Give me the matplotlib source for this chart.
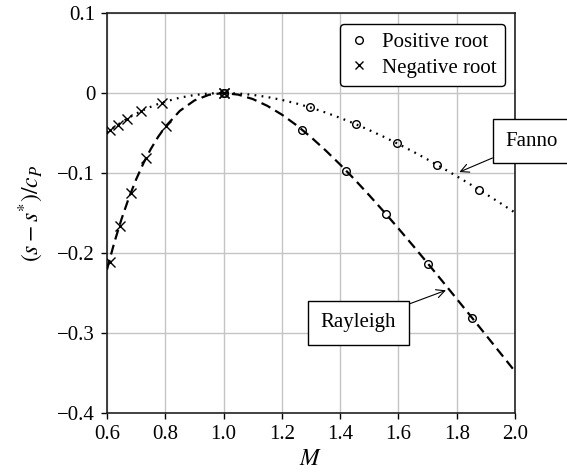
import matplotlib
matplotlib.use("Agg")
import matplotlib.pyplot as plt
from matplotlib.lines import Line2D

plt.rcParams['font.family'] = ['Liberation Serif', 'DejaVu Serif']
plt.rcParams['mathtext.fontset'] = 'stix'
plt.rcParams['font.size'] = 15

# Curve values
mach = [0.60, 0.625, 0.65, 0.675, 0.70, 0.725, 0.75, 0.775, 0.80, 0.85, 0.90, 0.95,
        1.00, 1.05, 1.10, 1.15, 1.20, 1.25, 1.30, 1.35, 1.40, 1.45, 1.50, 1.55,
        1.60, 1.65, 1.70, 1.75, 1.80, 1.85, 1.90, 1.95, 2.00]
fanno = [-0.0492, -0.0425, -0.0364, -0.0308, -0.0258, -0.0213, -0.0173, -0.0138,
         -0.0108, -0.0058, -0.0025, -0.0006, 0.0, -0.0006, -0.0023, -0.0050,
         -0.0086, -0.0131, -0.0183, -0.0244, -0.0311, -0.0384, -0.0464, -0.0548,
         -0.0638, -0.0732, -0.0831, -0.0934, -0.1040, -0.1149, -0.1262, -0.1377,
         -0.1495]
rayleigh = [-0.2206, -0.1870, -0.1574, -0.1311, -0.1080, -0.0878, -0.0702, -0.0551,
            -0.0422, -0.0223, -0.0093, -0.0022, 0.0, -0.0020, -0.0075, -0.0160,
            -0.0270, -0.0402, -0.0552, -0.0717, -0.0894, -0.1082, -0.1279, -0.1483,
            -0.1693, -0.1908, -0.2127, -0.2349, -0.2573, -0.2798, -0.3025, -0.3252,
            -0.3480]

# Root markers
fanno_pos_m = [1.0, 1.297, 1.455, 1.594, 1.734, 1.877]
fanno_pos_v = [0.0, -0.0180, -0.0392, -0.0627, -0.0901, -0.1211]
fanno_neg_m = [0.61, 0.637, 0.668, 0.718, 0.79, 1.0]
fanno_neg_v = [-0.0466, -0.0396, -0.0326, -0.0227, -0.0121, 0.0]
ray_pos_m = [1.0, 1.269, 1.42, 1.558, 1.703, 1.852]
ray_pos_v = [0.0, -0.0459, -0.0969, -0.1516, -0.2140, -0.2807]
ray_neg_m = [0.609, 0.643, 0.682, 0.735, 0.803, 1.0]
ray_neg_v = [-0.211, -0.1665, -0.125, -0.081, -0.041, 0.0]

xticks = [0.6, 0.8, 1.0, 1.2, 1.4, 1.6, 1.8, 2.0]
xticklabels = ['0.6', '0.8', '1.0', '1.2', '1.4', '1.6', '1.8', '2.0']
yticks = [-0.4, -0.3, -0.2, -0.1, 0.0, 0.1]
yticklabels = ['\u22120.4', '\u22120.3', '\u22120.2', '\u22120.1', '0', '0.1']

fig = plt.figure(figsize=(5.67, 4.75), dpi=100)
ax = fig.add_axes([0.1887, 0.1305, 0.9083 - 0.1887, 0.9726 - 0.1305])

ax.plot(mach, rayleigh, color='black', lw=1.6, dashes=(4.5, 2.5), zorder=3)
ax.plot(mach, fanno, color='black', lw=1.6, dashes=(0.8, 2.4), zorder=3)

mk = dict(linestyle='none', color='black', zorder=4)
ax.plot(fanno_pos_m, fanno_pos_v, marker='o', ms=5.5, mfc='none', mew=1.0, **mk)
ax.plot(ray_pos_m, ray_pos_v, marker='o', ms=5.5, mfc='none', mew=1.0, **mk)
ax.plot(fanno_neg_m, fanno_neg_v, marker='x', ms=6.5, mew=1.0, **mk)
ax.plot(ray_neg_m, ray_neg_v, marker='x', ms=6.5, mew=1.0, **mk)

ax.set_xlim(0.6, 2.0)
ax.set_ylim(-0.4, 0.1)
ax.set_xticks(xticks)
ax.set_xticklabels(xticklabels)
ax.set_yticks(yticks)
ax.set_yticklabels(yticklabels)
ax.grid(True, color='#c4c4c4', lw=1.0, zorder=0)
ax.set_axisbelow(True)
ax.tick_params(direction='out', length=4.5, width=1.0, color='black', pad=4)
for s in ax.spines.values():
    s.set_linewidth(1.2)
    s.set_color('#222222')

ax.set_xlabel('$M$', fontsize=17, labelpad=4)
ax.set_ylabel('$(s - s^{*})/c_P$', fontsize=17, labelpad=8)

handles = [Line2D([], [], linestyle='none', marker='o', ms=5.5, mfc='none', mec='black', mew=1.0),
           Line2D([], [], linestyle='none', marker='x', ms=6.0, color='black', mew=1.0)]
leg = ax.legend(handles, ['Positive root', 'Negative root'], loc='upper right',
                bbox_to_anchor=(0.975, 0.9725), fancybox=True, framealpha=1.0,
                edgecolor='black', handlelength=1.0, handletextpad=0.6,
                borderpad=0.4, labelspacing=0.3, borderaxespad=0.0)
leg.get_frame().set_linewidth(1.0)

box = dict(boxstyle='square,pad=0.6', fc='white', ec='black', lw=1.0)
arrow = dict(arrowstyle='->', color='black', lw=0.8, shrinkA=0, shrinkB=0)
ax.annotate('Rayleigh', xy=(1.763, -0.2466), xytext=(1.463, -0.2873),
            ha='center', va='center', bbox=box, arrowprops=arrow, zorder=6)
ax.annotate('Fanno', xy=(1.809, -0.0988), xytext=(2.057, -0.0604),
            ha='center', va='center', bbox=box, arrowprops=arrow, zorder=6,
            annotation_clip=False)

fig.savefig('out.png', dpi=100)
